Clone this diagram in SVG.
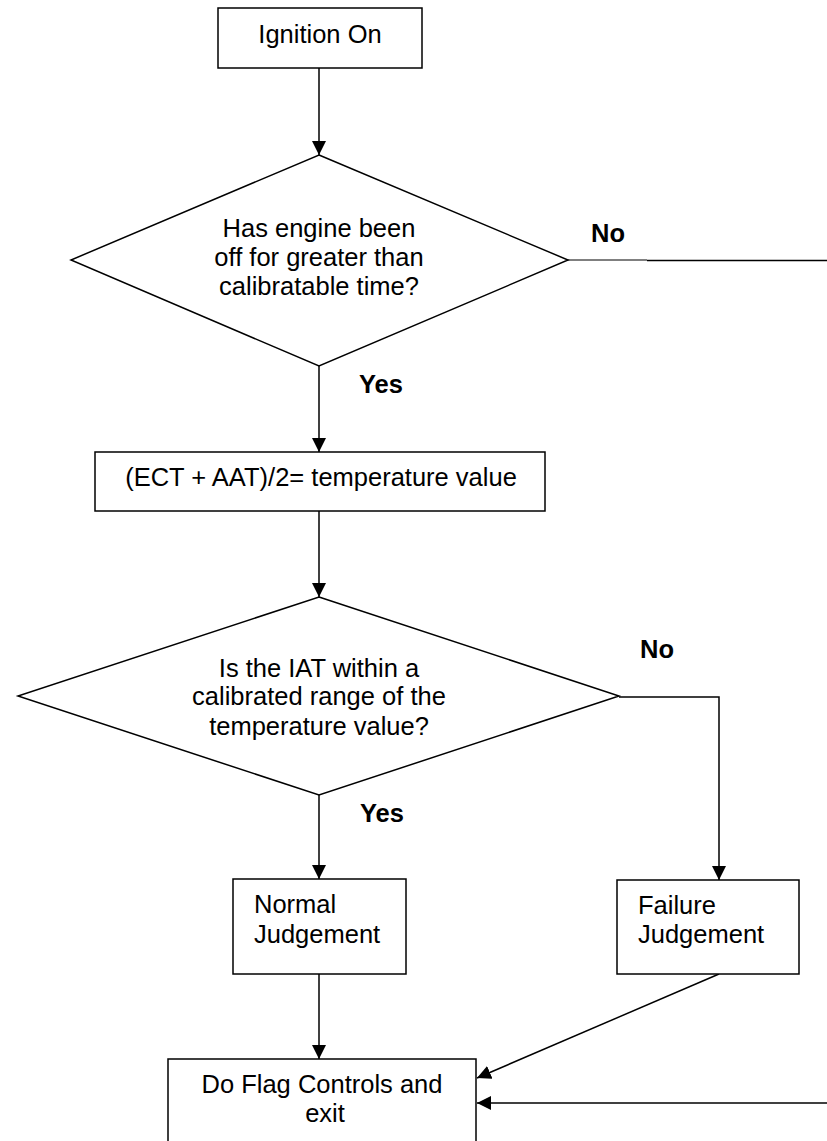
<svg xmlns="http://www.w3.org/2000/svg" width="827" height="1141" viewBox="0 0 827 1141">
<defs>
<style>
.box{fill:#fff;stroke:#000;stroke-width:1.5}
.t{font-family:"Liberation Sans",Arial,sans-serif;font-size:25.5px;fill:#000}
.c{text-anchor:middle}
.b{font-weight:bold}
.ln{fill:none;stroke:#000;stroke-width:1.5}
.thin{fill:none;stroke:#000;stroke-width:1}
</style>
<marker id="arr" viewBox="0 0 10 10" refX="10" refY="5" markerWidth="14" markerHeight="14" markerUnits="userSpaceOnUse" orient="auto">
<path d="M0,0 L10,5 L0,10 z" fill="#000"/>
</marker>
</defs>
<rect width="827" height="1141" fill="#fff"/>
<g id="connectors">
<line class="ln" x1="319" y1="68" x2="319" y2="155" marker-end="url(#arr)"/>
<line class="ln" x1="319" y1="366" x2="319" y2="452" marker-end="url(#arr)"/>
<line class="ln" x1="319" y1="511" x2="319" y2="597" marker-end="url(#arr)"/>
<line class="ln" x1="319" y1="795" x2="319" y2="879" marker-end="url(#arr)"/>
<polyline class="ln" points="619,697 719,697 719,880" marker-end="url(#arr)"/>
<line class="ln" x1="319" y1="974" x2="319" y2="1059" marker-end="url(#arr)"/>
<line class="ln" x1="719" y1="974" x2="477" y2="1078" marker-end="url(#arr)"/>
<line class="ln" x1="827" y1="1103" x2="477" y2="1103" marker-end="url(#arr)"/>
<line class="thin" x1="568" y1="260" x2="647" y2="260"/>
<line class="ln" x1="647" y1="260.5" x2="827" y2="260.5"/>
<text class="t b" x="591" y="242">No</text>
<text class="t b" x="359" y="393">Yes</text>
<text class="t b" x="640" y="658">No</text>
<text class="t b" x="360" y="822">Yes</text>
</g>
<g id="ignition">
<rect class="box" x="218" y="8" width="204" height="60"/>
<text class="t c" x="320" y="43">Ignition On</text>
</g>
<g id="decision1">
<polygon class="box" points="319,155 568,260 319,366 71,260"/>
<text class="t c" x="319" y="237">Has engine been</text>
<text class="t c" x="319" y="266">off for greater than</text>
<text class="t c" x="319" y="295">calibratable time?</text>
</g>
<g id="temperature">
<rect class="box" x="95" y="452" width="450" height="59"/>
<text class="t c" x="321" y="486">(ECT + AAT)/2= temperature value</text>
</g>
<g id="decision2">
<polygon class="box" points="319,597 619,696 319,795 18,696"/>
<text class="t c" x="319" y="677">Is the IAT within a</text>
<text class="t c" x="319" y="705">calibrated range of the</text>
<text class="t c" x="319" y="735">temperature value?</text>
</g>
<g id="normal">
<rect class="box" x="233" y="879" width="173" height="95"/>
<text class="t" x="254" y="913">Normal</text>
<text class="t" x="254" y="943">Judgement</text>
</g>
<g id="failure">
<rect class="box" x="617" y="880" width="182" height="94"/>
<text class="t" x="638" y="914">Failure</text>
<text class="t" x="638" y="943">Judgement</text>
</g>
<g id="flag">
<rect class="box" x="168" y="1059" width="308" height="100"/>
<text class="t c" x="322" y="1093">Do Flag Controls and</text>
<text class="t c" x="325" y="1122">exit</text>
</g>
</svg>
